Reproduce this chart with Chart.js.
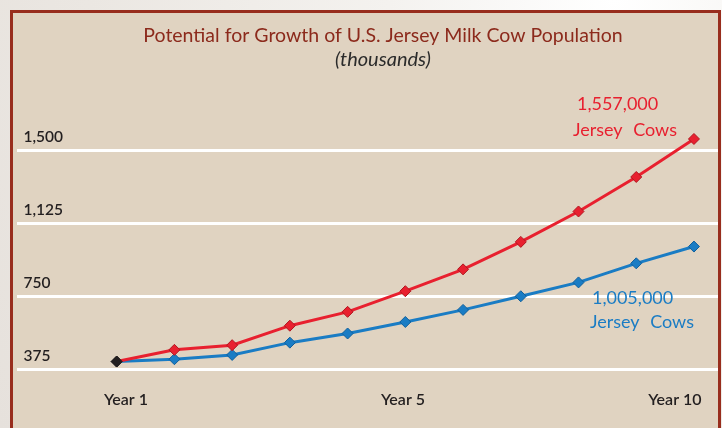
<!DOCTYPE html>
<html lang="en">
  <head>
    <meta charset="utf-8" />
    <title>Jersey Milk Cow Population</title>
    <style>
      * {
        margin: 0;
        padding: 0;
      }
      body {
        width: 722px;
        height: 428px;
        overflow: hidden;
        position: relative;
        background: radial-gradient(circle at 85% 0%, #ffffff 0%, #f4f2ef 30%, #ebe7e2 70%, #e6e1dc 100%);
      }
      .panel {
        position: absolute;
        left: 10px;
        top: 10px;
        width: 705px;
        height: 500px;
        border: 3px solid #982d1d;
        background: #e0d3c1;
        overflow: hidden;
      }
      .panel canvas {
        position: absolute;
        left: -9px;
        top: 0;
      }
    </style>
  </head>
  <body>
    <div class="panel">
      <canvas id="myChart" width="758" height="415"></canvas>
    </div>

    <script src="https://cdn.jsdelivr.net/npm/chart.js"></script>

    <script>
      // one point per year step (thousands of cows)
      const steps = [0, 1, 2, 3, 4, 5, 6, 7, 8, 9, 10];
      const highGrowth = [415, 475, 499, 599, 670, 776, 888, 1029, 1185, 1362, 1557];
      const lowGrowth = [415, 427, 449, 512, 559, 618, 680, 750, 821, 919, 1005];

      const yTicks = [375, 750, 1125, 1500];
      const xTickPos = [0.16, 4.96, 9.67];
      const xTickLabels = ["Year 1", "Year 5", "Year 10"];

      const red = "#e8202f";
      const blue = "#1a7cc4";

      // first point is shared, drawn in black
      const pointColors = (c) => steps.map((s, i) => (i === 0 ? "#231f20" : c));

      const toPoints = (vals) => steps.map((s, i) => ({ x: s, y: vals[i] }));

      // end labels next to the last point of each line
      const endLabels = {
        id: "endLabels",
        afterDatasetsDraw(chart) {
          const { ctx, scales: { x, y } } = chart;
          const last = steps.length - 1;
          ctx.save();
          ctx.font = "18px Lato";
          ctx.textAlign = "left";
          ctx.textBaseline = "middle";
          ctx.wordSpacing = "6px";

          const rx = x.getPixelForValue(steps[last]);
          const ry = y.getPixelForValue(highGrowth[last]);
          ctx.fillStyle = red;
          ctx.fillText("1,557,000", rx - 117, ry - 35);
          ctx.fillText("Jersey Cows", rx - 121, ry - 9);

          const by = y.getPixelForValue(lowGrowth[last]);
          ctx.fillStyle = blue;
          ctx.fillText("1,005,000", rx - 102, by + 52);
          ctx.fillText("Jersey Cows", rx - 104, by + 76);
          ctx.restore();
        },
      };

      const data = {
        datasets: [
          {
            label: "High growth",
            data: toPoints(highGrowth),
            borderColor: red,
            backgroundColor: red,
            pointBackgroundColor: pointColors(red),
            pointBorderColor: pointColors("#b0151f"),
            borderWidth: 3,
            pointStyle: "rectRot",
            pointRadius: 5.5,
            pointBorderWidth: 1,
            tension: 0,
          },
          {
            label: "Low growth",
            data: toPoints(lowGrowth),
            borderColor: blue,
            backgroundColor: blue,
            pointBackgroundColor: pointColors(blue),
            pointBorderColor: pointColors("#0f5f9c"),
            borderWidth: 3,
            pointStyle: "rectRot",
            pointRadius: 5.5,
            pointBorderWidth: 1,
            tension: 0,
          },
        ],
      };

      const config = {
        type: "line",
        data: data,
        options: {
          responsive: false,
          animation: false,
          layout: {
            padding: { bottom: 15 },
          },
          plugins: {
            legend: { display: false },
            tooltip: { enabled: false },
            title: {
              display: true,
              text: "Potential for Growth of U.S. Jersey Milk Cow Population",
              color: "#8c2a1c",
              font: { family: "Lato", size: 19.5, weight: "normal", lineHeight: 1.05 },
              padding: { top: 12, bottom: 4 },
            },
            subtitle: {
              display: true,
              text: "(thousands)",
              color: "#2b2b2b",
              font: { family: "Lato", size: 20, style: "italic", lineHeight: 0.9 },
              padding: { top: 1, bottom: 13 },
            },
          },
          scales: {
            x: {
              type: "linear",
              min: -1.727,
              max: 11.066,
              grid: { display: false },
              border: { display: false },
              afterBuildTicks: (axis) => {
                axis.ticks = xTickPos.map((v) => ({ value: v }));
              },
              ticks: {
                padding: 3.5,
                color: "#231f20",
                font: { family: "Lato", size: 16, weight: "600" },
                callback: (value, index) => xTickLabels[index],
                maxRotation: 0,
                autoSkip: false,
              },
            },
            y: {
              min: 326.5,
              max: 1852,
              border: { display: false },
              grid: {
                color: "#ffffff",
                lineWidth: 3,
                drawTicks: false,
              },
              afterBuildTicks: (axis) => {
                axis.ticks = yTicks.map((v) => ({ value: v }));
              },
              ticks: {
                mirror: true,
                padding: 6.5,
                labelOffset: -13,
                color: "#231f20",
                font: { family: "Lato", size: 15.5, weight: "600" },
                callback: (value) => value.toLocaleString("en-US"),
              },
            },
          },
        },
        plugins: [endLabels],
      };

      const ctx = document.getElementById("myChart");
      const myChart = new Chart(ctx, config);
    </script>
  </body>
</html>
